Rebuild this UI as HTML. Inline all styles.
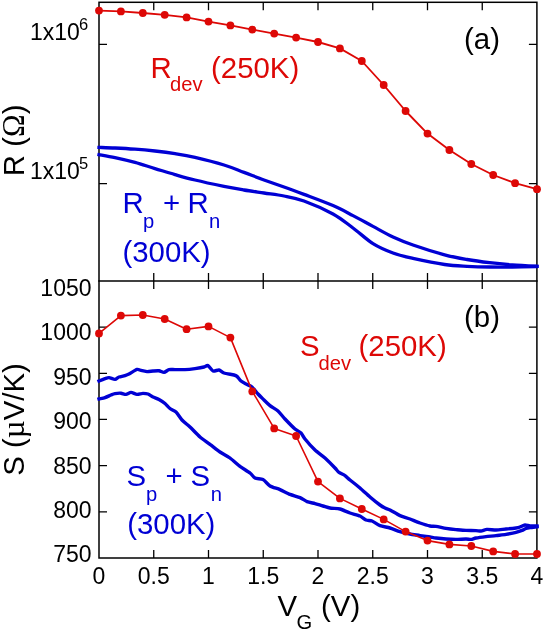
<!DOCTYPE html><html lang="en"><head><meta charset="utf-8"><title>chart</title><style>html,body{margin:0;padding:0;background:#fff}svg{display:block;will-change:transform}text{font-family:"Liberation Sans",sans-serif}</style></head><body>
<svg width="545" height="631" viewBox="0 0 545 631">
<rect width="545" height="631" fill="#fff"/>
<g stroke="#000" stroke-width="1.5" fill="none" stroke-linecap="square">
<rect x="99.0" y="2.3" width="437.9" height="555.7"/>
<line x1="99.0" y1="280.9" x2="536.9" y2="280.9"/>
</g>
<g stroke="#000" stroke-width="1.3" fill="none">
<path d="M153.75,2.3v8 M153.75,272.9v16 M153.75,550.0v8"/>
<path d="M208.50,2.3v8 M208.50,272.9v16 M208.50,550.0v8"/>
<path d="M263.25,2.3v8 M263.25,272.9v16 M263.25,550.0v8"/>
<path d="M318.00,2.3v8 M318.00,272.9v16 M318.00,550.0v8"/>
<path d="M372.75,2.3v8 M372.75,272.9v16 M372.75,550.0v8"/>
<path d="M427.50,2.3v8 M427.50,272.9v16 M427.50,550.0v8"/>
<path d="M482.25,2.3v8 M482.25,272.9v16 M482.25,550.0v8"/>
<path d="M99.0,44.4h8 M528.9,44.4h8"/>
<path d="M99.0,183.6h8 M528.9,183.6h8"/>
<path d="M99.0,327.1h8 M528.9,327.1h8"/>
<path d="M99.0,373.3h8 M528.9,373.3h8"/>
<path d="M99.0,419.4h8 M528.9,419.4h8"/>
<path d="M99.0,465.6h8 M528.9,465.6h8"/>
<path d="M99.0,511.8h8 M528.9,511.8h8"/>
</g>
<g fill="none" stroke="#0000d4" stroke-linejoin="round" stroke-linecap="square">
<path stroke-width="3.3" d="M99.0,147.4C101.7,147.5 109.0,147.7 115.0,148.0C121.0,148.3 128.3,148.7 135.0,149.2C141.7,149.7 148.3,150.3 155.0,151.0C161.7,151.7 168.3,152.5 175.0,153.6C181.7,154.7 186.8,155.5 195.0,157.4C203.2,159.3 215.8,162.5 224.0,165.0C232.2,167.5 237.3,169.9 244.0,172.4C250.7,174.9 257.3,177.6 264.0,180.0C270.7,182.4 277.3,184.6 284.0,187.0C290.7,189.4 295.8,191.3 304.0,194.4C312.2,197.5 324.8,202.1 333.0,205.6C341.2,209.1 346.3,212.1 353.0,215.6C359.7,219.1 366.3,222.8 373.0,226.4C379.7,230.0 386.3,233.9 393.0,237.0C399.7,240.1 404.4,242.0 413.0,245.0C421.6,248.0 435.6,252.4 444.6,254.8C453.6,257.2 459.6,258.2 467.1,259.5C474.6,260.8 482.2,261.8 489.7,262.7C497.2,263.6 504.4,264.3 512.3,264.9C520.2,265.5 532.9,266.1 537.0,266.3"/>
<path stroke-width="3.3" d="M99.0,154.6C101.7,155.1 109.0,156.3 115.0,157.6C121.0,158.9 128.3,160.6 135.0,162.4C141.7,164.2 148.3,166.6 155.0,168.6C161.7,170.6 168.3,172.7 175.0,174.6C181.7,176.5 186.8,178.0 195.0,180.0C203.2,182.0 215.8,184.7 224.0,186.4C232.2,188.1 237.3,188.9 244.0,190.0C250.7,191.1 257.3,192.0 264.0,193.0C270.7,194.0 277.3,194.7 284.0,196.0C290.7,197.3 295.8,198.0 304.0,201.0C312.2,204.0 324.8,209.5 333.0,214.0C341.2,218.5 346.3,223.1 353.0,228.0C359.7,232.9 366.3,239.4 373.0,243.6C379.7,247.8 386.3,250.5 393.0,253.0C399.7,255.5 404.4,256.5 413.0,258.4C421.6,260.3 435.6,263.2 444.6,264.5C453.6,265.8 459.6,265.9 467.1,266.3C474.6,266.7 482.2,266.9 489.7,267.0C497.2,267.1 504.4,267.1 512.3,267.0C520.2,266.9 532.9,266.6 537.0,266.5"/>
<path stroke-width="3.4" d="M99.0,381.0C99.7,380.7 103.8,379.0 105.0,378.6C106.2,378.2 107.8,377.5 109.0,377.6C110.2,377.7 113.8,379.5 115.0,379.4C116.2,379.3 117.8,377.4 119.0,377.0C120.2,376.6 123.8,376.0 125.0,375.6C126.2,375.2 127.6,374.7 129.0,374.0C130.4,373.3 135.6,369.8 137.0,369.4C138.4,369.0 139.8,370.1 141.0,370.4C142.2,370.7 145.6,371.5 147.0,371.6C148.4,371.7 151.6,371.1 153.0,371.0C154.4,370.9 157.7,370.6 159.0,370.8C160.3,371.0 162.8,372.5 164.0,372.4C165.2,372.3 167.7,369.9 169.0,369.6C170.3,369.3 173.1,369.6 175.0,369.6C176.9,369.6 182.7,369.7 185.0,369.6C187.3,369.5 192.8,368.9 195.0,368.6C197.2,368.3 202.5,367.4 204.0,367.0C205.5,366.6 206.9,365.1 208.0,365.6C209.1,366.1 211.7,370.5 213.0,371.0C214.3,371.5 217.7,369.8 219.0,370.0C220.3,370.2 222.2,372.4 224.0,373.0C225.8,373.6 232.5,374.6 234.0,375.0C235.5,375.4 236.2,375.7 237.0,376.4C237.8,377.1 239.9,380.1 241.0,381.0C242.1,381.9 244.7,383.3 246.0,384.0C247.3,384.7 250.6,385.8 252.0,387.0C253.4,388.2 256.6,392.5 258.0,394.0C259.4,395.5 262.6,398.6 264.0,400.0C265.4,401.4 268.4,404.3 270.0,405.6C271.6,406.9 276.2,409.4 278.0,411.0C279.8,412.6 283.0,416.9 285.0,419.0C287.0,421.1 293.1,427.4 295.0,429.0C296.9,430.6 299.8,431.8 301.0,433.0C302.2,434.2 303.4,437.0 305.0,439.0C306.6,441.0 312.7,447.8 315.0,450.0C317.3,452.2 322.7,455.9 325.0,458.0C327.3,460.1 333.4,466.3 335.0,468.0C336.6,469.7 337.8,471.5 339.0,472.4C340.2,473.3 343.7,474.7 345.0,475.6C346.3,476.5 348.2,478.6 350.0,480.0C351.8,481.4 357.7,486.0 360.0,488.0C362.3,490.0 367.7,495.0 370.0,497.0C372.3,499.0 378.2,503.7 380.0,505.0C381.8,506.3 383.8,507.4 385.0,508.0C386.2,508.6 388.2,509.1 390.0,510.0C391.8,510.9 397.7,514.6 400.0,515.6C402.3,516.6 407.7,518.1 410.0,519.0C412.3,519.9 417.7,522.2 420.0,523.0C422.3,523.8 428.1,525.6 430.0,526.0C431.9,526.4 434.1,526.1 436.0,526.4C437.9,526.7 443.7,528.0 446.0,528.4C448.3,528.8 453.7,529.4 456.0,529.6C458.3,529.8 463.7,530.3 466.0,530.4C468.3,530.5 474.2,530.5 476.0,530.6C477.8,530.7 479.7,531.1 481.0,531.0C482.3,530.9 485.2,529.5 487.0,529.4C488.8,529.3 493.8,530.0 496.0,530.0C498.2,530.0 503.7,529.2 506.0,529.0C508.3,528.8 514.4,528.2 516.0,528.0C517.6,527.8 519.0,527.4 520.0,527.0C521.0,526.6 523.8,525.1 525.0,525.0C526.2,524.9 528.6,525.9 530.0,526.0C531.4,526.1 536.2,526.0 537.0,526.0"/>
<path stroke-width="3.4" d="M99.0,399.0C99.7,398.8 103.6,398.1 105.0,397.6C106.4,397.1 109.8,395.5 111.0,395.0C112.2,394.5 113.8,393.8 115.0,393.6C116.2,393.4 119.7,393.1 121.0,393.2C122.3,393.3 124.8,394.5 126.0,394.4C127.2,394.3 129.7,392.4 131.0,392.4C132.3,392.4 135.6,394.3 137.0,394.4C138.4,394.5 141.7,393.4 143.0,393.4C144.3,393.4 146.8,393.6 148.0,394.0C149.2,394.4 151.7,396.4 153.0,397.0C154.3,397.6 157.6,398.7 159.0,399.5C160.4,400.3 163.7,402.4 165.0,403.5C166.3,404.6 168.7,407.5 170.0,408.5C171.3,409.5 174.6,410.7 176.0,412.0C177.4,413.3 180.4,418.2 182.0,420.0C183.6,421.8 187.9,425.0 190.0,427.0C192.1,429.0 197.7,435.0 200.0,437.0C202.3,439.0 207.7,442.6 210.0,444.4C212.3,446.1 217.7,450.4 220.0,452.0C222.3,453.6 227.7,456.3 230.0,458.0C232.3,459.7 237.7,464.6 240.0,466.4C242.3,468.1 248.2,471.6 250.0,473.0C251.8,474.4 253.5,477.2 255.0,478.0C256.5,478.8 261.2,478.7 263.0,479.6C264.8,480.5 268.0,484.8 270.0,486.0C272.0,487.2 277.7,488.6 280.0,489.6C282.3,490.6 287.7,493.5 290.0,494.4C292.3,495.3 298.0,496.8 300.0,497.6C302.0,498.4 305.2,500.9 307.0,501.6C308.8,502.3 313.1,503.1 315.0,503.6C316.9,504.1 321.2,505.5 323.0,506.0C324.8,506.5 328.0,507.6 330.0,508.0C332.0,508.4 337.7,508.4 340.0,509.0C342.3,509.6 347.7,512.2 350.0,513.0C352.3,513.8 358.1,515.2 360.0,516.0C361.9,516.8 364.6,519.4 366.0,520.0C367.4,520.6 370.4,520.3 372.0,521.0C373.6,521.7 377.9,524.8 380.0,525.6C382.1,526.4 387.7,527.3 390.0,528.0C392.3,528.7 397.7,530.9 400.0,531.6C402.3,532.3 407.7,533.5 410.0,534.0C412.3,534.5 417.7,535.2 420.0,535.6C422.3,536.0 428.1,536.7 430.0,537.0C431.9,537.3 434.1,537.8 436.0,538.0C437.9,538.2 443.7,538.8 446.0,539.0C448.3,539.2 453.7,539.4 456.0,539.4C458.3,539.4 464.2,539.0 466.0,539.0C467.8,539.0 469.8,539.5 471.0,539.4C472.2,539.3 474.2,538.3 476.0,538.0C477.8,537.7 483.7,536.9 486.0,536.6C488.3,536.3 493.7,535.9 496.0,535.6C498.3,535.3 503.7,534.8 506.0,534.4C508.3,534.0 514.1,532.9 516.0,532.4C517.9,531.9 520.8,530.9 522.0,530.4C523.2,529.9 525.1,528.7 526.0,528.4C526.9,528.1 528.7,527.8 530.0,527.6C531.3,527.4 536.2,526.9 537.0,526.8"/>
</g>
<path fill="none" stroke="#dd0806" stroke-width="1.85" stroke-linejoin="round" d="M99.0,10.6L120.9,11.4L142.8,13.0L164.7,14.8L186.6,17.4L208.5,21.6L230.4,25.4L252.3,29.6L274.2,33.6L296.1,37.6L318.0,42.0L339.9,48.4L361.8,61.0L383.7,85.0L405.6,111.0L427.5,133.6L449.4,150.0L471.3,164.0L493.2,175.0L515.1,183.2L537.0,189.2"/>
<g fill="#dd0806"><circle cx="99.0" cy="10.6" r="3.9"/><circle cx="120.9" cy="11.4" r="3.9"/><circle cx="142.8" cy="13.0" r="3.9"/><circle cx="164.7" cy="14.8" r="3.9"/><circle cx="186.6" cy="17.4" r="3.9"/><circle cx="208.5" cy="21.6" r="3.9"/><circle cx="230.4" cy="25.4" r="3.9"/><circle cx="252.3" cy="29.6" r="3.9"/><circle cx="274.2" cy="33.6" r="3.9"/><circle cx="296.1" cy="37.6" r="3.9"/><circle cx="318.0" cy="42.0" r="3.9"/><circle cx="339.9" cy="48.4" r="3.9"/><circle cx="361.8" cy="61.0" r="3.9"/><circle cx="383.7" cy="85.0" r="3.9"/><circle cx="405.6" cy="111.0" r="3.9"/><circle cx="427.5" cy="133.6" r="3.9"/><circle cx="449.4" cy="150.0" r="3.9"/><circle cx="471.3" cy="164.0" r="3.9"/><circle cx="493.2" cy="175.0" r="3.9"/><circle cx="515.1" cy="183.2" r="3.9"/><circle cx="537.0" cy="189.2" r="3.9"/></g>
<path fill="none" stroke="#dd0806" stroke-width="1.6" stroke-linejoin="round" d="M99.0,333.4L120.9,315.6L142.8,315.0L164.7,319.0L186.6,329.2L208.5,326.4L230.4,337.6L252.3,391.4L274.2,428.4L296.1,436.0L318.0,481.6L339.9,498.4L361.8,509.0L383.7,519.4L405.6,531.6L427.5,540.6L449.4,544.4L471.3,546.0L493.2,551.4L515.1,554.0L537.0,554.0"/>
<g fill="#dd0806"><circle cx="99.0" cy="333.4" r="3.9"/><circle cx="120.9" cy="315.6" r="3.9"/><circle cx="142.8" cy="315.0" r="3.9"/><circle cx="164.7" cy="319.0" r="3.9"/><circle cx="186.6" cy="329.2" r="3.9"/><circle cx="208.5" cy="326.4" r="3.9"/><circle cx="230.4" cy="337.6" r="3.9"/><circle cx="252.3" cy="391.4" r="3.9"/><circle cx="274.2" cy="428.4" r="3.9"/><circle cx="296.1" cy="436.0" r="3.9"/><circle cx="318.0" cy="481.6" r="3.9"/><circle cx="339.9" cy="498.4" r="3.9"/><circle cx="361.8" cy="509.0" r="3.9"/><circle cx="383.7" cy="519.4" r="3.9"/><circle cx="405.6" cy="531.6" r="3.9"/><circle cx="427.5" cy="540.6" r="3.9"/><circle cx="449.4" cy="544.4" r="3.9"/><circle cx="471.3" cy="546.0" r="3.9"/><circle cx="493.2" cy="551.4" r="3.9"/><circle cx="515.1" cy="554.0" r="3.9"/><circle cx="537.0" cy="554.0" r="3.9"/></g>
<text transform="translate(30.0,40.0) scale(1,1.035)" font-size="23" fill="#000" text-anchor="start">1x10</text>
<text transform="translate(30.0,179.2) scale(1,1.035)" font-size="23" fill="#000" text-anchor="start">1x10</text>
<text transform="translate(79.0,30.2) scale(1,1.0)" font-size="16.5" fill="#000" text-anchor="start">6</text>
<text transform="translate(79.0,169.4) scale(1,1.0)" font-size="16.5" fill="#000" text-anchor="start">5</text>
<text transform="translate(91.5,296.0) scale(1,1.035)" font-size="23" fill="#000" text-anchor="end">1050</text>
<text transform="translate(91.5,340.4) scale(1,1.035)" font-size="23" fill="#000" text-anchor="end">1000</text>
<text transform="translate(91.5,384.8) scale(1,1.035)" font-size="23" fill="#000" text-anchor="end">950</text>
<text transform="translate(91.5,429.2) scale(1,1.035)" font-size="23" fill="#000" text-anchor="end">900</text>
<text transform="translate(91.5,473.6) scale(1,1.035)" font-size="23" fill="#000" text-anchor="end">850</text>
<text transform="translate(91.5,518.0) scale(1,1.035)" font-size="23" fill="#000" text-anchor="end">800</text>
<text transform="translate(91.5,562.4) scale(1,1.035)" font-size="23" fill="#000" text-anchor="end">750</text>
<text transform="translate(99.0,584.4) scale(1,1.035)" font-size="23" fill="#000" text-anchor="middle">0</text>
<text transform="translate(153.8,584.4) scale(1,1.035)" font-size="23" fill="#000" text-anchor="middle">0.5</text>
<text transform="translate(208.5,584.4) scale(1,1.035)" font-size="23" fill="#000" text-anchor="middle">1</text>
<text transform="translate(263.2,584.4) scale(1,1.035)" font-size="23" fill="#000" text-anchor="middle">1.5</text>
<text transform="translate(318.0,584.4) scale(1,1.035)" font-size="23" fill="#000" text-anchor="middle">2</text>
<text transform="translate(372.8,584.4) scale(1,1.035)" font-size="23" fill="#000" text-anchor="middle">2.5</text>
<text transform="translate(427.5,584.4) scale(1,1.035)" font-size="23" fill="#000" text-anchor="middle">3</text>
<text transform="translate(482.2,584.4) scale(1,1.035)" font-size="23" fill="#000" text-anchor="middle">3.5</text>
<text transform="translate(537.0,584.4) scale(1,1.035)" font-size="23" fill="#000" text-anchor="middle">4</text>
<text transform="translate(464.0,49.0) scale(1,1.015)" font-size="29.4" fill="#000" text-anchor="start">(a)</text>
<text transform="translate(464.0,326.6) scale(1,1.015)" font-size="29.4" fill="#000" text-anchor="start">(b)</text>
<text transform="translate(150.5,77.6) scale(1,1.015)" font-size="29.4" fill="#dd0806" text-anchor="start">R</text>
<text transform="translate(170.0,91.2) scale(1,1.0)" font-size="20.2" fill="#dd0806" text-anchor="start">dev</text>
<text transform="translate(211.0,77.6) scale(1,1.015)" font-size="29.4" fill="#dd0806" text-anchor="start">(250K)</text>
<text transform="translate(300.0,356.4) scale(1,1.015)" font-size="29.4" fill="#dd0806" text-anchor="start">S</text>
<text transform="translate(318.5,369.8) scale(1,1.0)" font-size="20.2" fill="#dd0806" text-anchor="start">dev</text>
<text transform="translate(358.5,356.4) scale(1,1.015)" font-size="29.4" fill="#dd0806" text-anchor="start">(250K)</text>
<text transform="translate(122.5,213.4) scale(1,1.015)" font-size="29.4" fill="#0000d4" text-anchor="start">R</text>
<text transform="translate(143.0,227.7) scale(1,1.0)" font-size="20.2" fill="#0000d4" text-anchor="start">p</text>
<text transform="translate(163.0,213.4) scale(1,1.015)" font-size="29.4" fill="#0000d4" text-anchor="start">+</text>
<text transform="translate(187.6,213.4) scale(1,1.015)" font-size="29.4" fill="#0000d4" text-anchor="start">R</text>
<text transform="translate(209.0,227.7) scale(1,1.0)" font-size="20.2" fill="#0000d4" text-anchor="start">n</text>
<text transform="translate(122.4,261.8) scale(1,1.015)" font-size="29.4" fill="#0000d4" text-anchor="start">(300K)</text>
<text transform="translate(126.5,486.3) scale(1,1.015)" font-size="29.4" fill="#0000d4" text-anchor="start">S</text>
<text transform="translate(146.0,500.6) scale(1,1.0)" font-size="20.2" fill="#0000d4" text-anchor="start">p</text>
<text transform="translate(165.5,486.3) scale(1,1.015)" font-size="29.4" fill="#0000d4" text-anchor="start">+</text>
<text transform="translate(190.4,486.3) scale(1,1.015)" font-size="29.4" fill="#0000d4" text-anchor="start">S</text>
<text transform="translate(210.8,500.6) scale(1,1.0)" font-size="20.2" fill="#0000d4" text-anchor="start">n</text>
<text transform="translate(127.2,534.2) scale(1,1.015)" font-size="29.4" fill="#0000d4" text-anchor="start">(300K)</text>
<text transform="translate(277.5,615.8) scale(1,1.015)" font-size="29.4" fill="#000" text-anchor="start">V</text>
<text transform="translate(296.5,628.6) scale(1,1.0)" font-size="20.2" fill="#000" text-anchor="start">G</text>
<text transform="translate(321.0,615.8) scale(1,1.015)" font-size="29.4" fill="#000" text-anchor="start">(V)</text>
<text transform="translate(23.8,176.2) rotate(-90) scale(1,1.015)" font-size="29.4">R (<tspan font-family="Liberation Serif,serif" font-size="30.5">Ω</tspan>)</text>
<text transform="translate(23.8,475.7) rotate(-90) scale(1,1.015)" font-size="29.4">S (<tspan font-family="Liberation Serif,serif" font-size="31">µ</tspan>V/K)</text>
</svg></body></html>
